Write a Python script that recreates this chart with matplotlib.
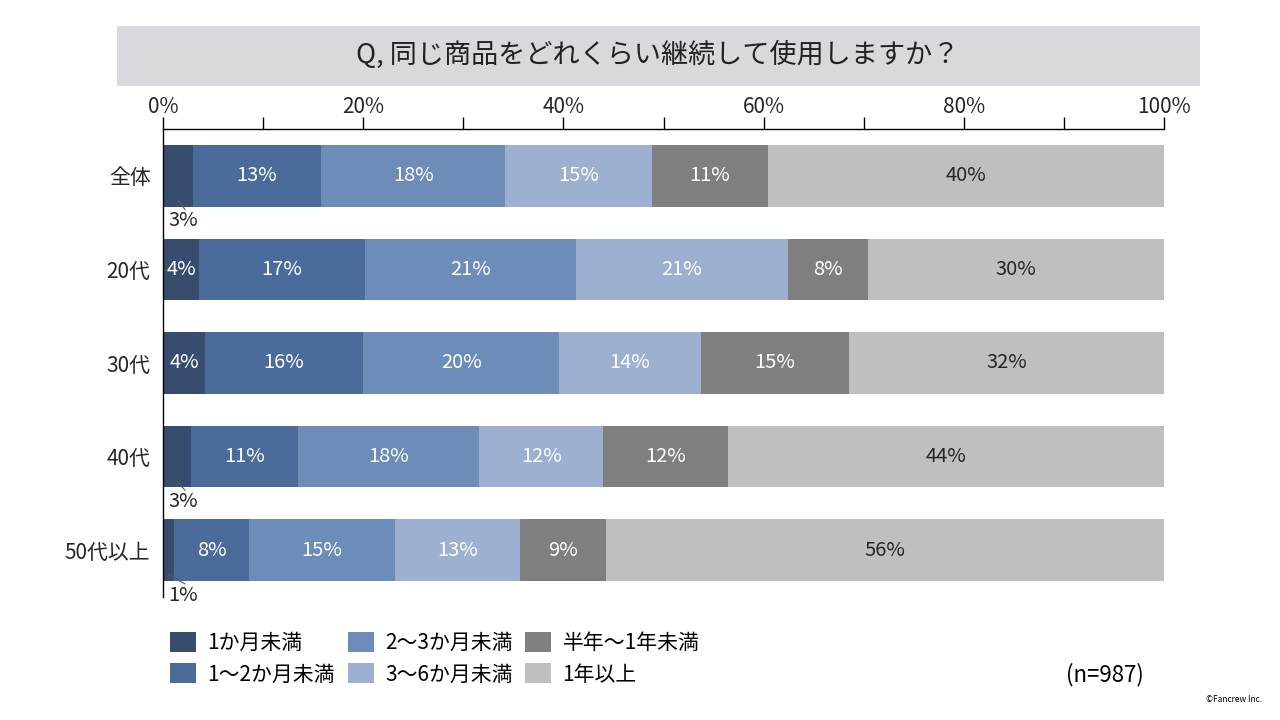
import matplotlib.pyplot as plt
from matplotlib.patches import Rectangle, Patch
import numpy as np

plt.rcParams['font.family'] = ['Noto Sans CJK JP', 'DejaVu Sans']

# カテゴリと系列
categories = ['全体', '20代', '30代', '40代', '50代以上']
series = ['1か月未満', '1〜2か月未満', '2〜3か月未満', '3〜6か月未満', '半年〜1年未満', '1年以上']
values = np.array([
    [3.0, 12.8, 18.4, 14.7, 11.5, 39.6],
    [3.6, 16.6, 21.1, 21.1, 8.0, 29.6],
    [4.2, 15.8, 19.6, 14.1, 14.8, 31.5],
    [2.8, 10.7, 18.1, 12.4, 12.4, 43.6],
    [1.1, 7.5, 14.6, 12.5, 8.6, 55.7],
])
labels = [
    ['3%', '13%', '18%', '15%', '11%', '40%'],
    ['4%', '17%', '21%', '21%', '8%', '30%'],
    ['4%', '16%', '20%', '14%', '15%', '32%'],
    ['3%', '11%', '18%', '12%', '12%', '44%'],
    ['1%', '8%', '15%', '13%', '9%', '56%'],
]
colors = ['#384c6d', '#4b6b9a', '#6d8cb8', '#9db0cf', '#7f7f7f', '#bfbfbf']
text_colors = ['white', 'white', 'white', 'white', 'white', '#262626']
# 最初の区間が狭いので外側にラベルを出す行
outside = [0, 3, 4]

fig = plt.figure(figsize=(12.8, 7.2), dpi=100)
ax = fig.add_axes([163/1280, 1-597/720, 1001/1280, 468/720])

y = np.arange(len(categories))
left = np.zeros(len(categories))
for j in range(len(series)):
    ax.barh(y, values[:, j], left=left, height=0.66, color=colors[j], label=series[j])
    for i in range(len(categories)):
        cx = left[i] + values[i, j] / 2
        if j == 0 and i in outside:
            # 引き出し線とラベル
            ax.plot([cx, 2.2], [y[i] + 0.26, y[i] + 0.36], color='#595959', lw=0.8)
            ax.text(2.0, y[i] + 0.48, labels[i][j], fontsize=14.5, color='#262626',
                    ha='center', va='center')
        else:
            ax.text(cx, y[i], labels[i][j], ha='center', va='center',
                    fontsize=14.5, color=text_colors[j])
    left += values[:, j]

ax.set_xlim(0, 100)
ax.set_ylim(4.5, -0.5)
ax.set_yticks(y)
ax.set_yticklabels(categories, fontsize=15, color='#262626')
ax.tick_params(axis='y', length=0, pad=9)
ax.xaxis.tick_top()
ax.set_xticks(np.arange(0, 101, 20))
ax.set_xticklabels([f'{v}%' for v in range(0, 101, 20)], fontsize=15, color='#262626')
ax.set_xticks(np.arange(0, 101, 10), minor=True)
ax.tick_params(axis='x', which='both', direction='out', length=9, width=1, pad=-1)
for s in ['right', 'bottom']:
    ax.spines[s].set_visible(False)
ax.spines['top'].set_linewidth(1)
ax.spines['left'].set_linewidth(1)

# タイトルボックス
fig.patches.append(Rectangle((117/1280, 1-86/720), 1083/1280, 60/720,
                             transform=fig.transFigure, facecolor='#d9d9dd',
                             edgecolor='none', zorder=0))
fig.text(658/1280, 1-55/720, 'Q, 同じ商品をどれくらい継続して使用しますか？',
         ha='center', va='center', fontsize=19.5, color='#222222')

handles = [Patch(facecolor=c) for c in colors]
fig.legend(handles, series, ncol=3, loc='upper left',
           bbox_to_anchor=(170/1280, 1-632/720), frameon=False, fontsize=15,
           handlelength=1.25, handleheight=1.1, handletextpad=0.55,
           columnspacing=0.6, labelspacing=0.45, borderaxespad=0, borderpad=0)

fig.text(1105/1280, 1-675/720, '(n=987)', ha='center', va='center', fontsize=16)
fig.text(1262/1280, 1-699/720, '©Fancrew Inc.', ha='right', va='center', fontsize=6)

fig.savefig('out.png', dpi=100)
